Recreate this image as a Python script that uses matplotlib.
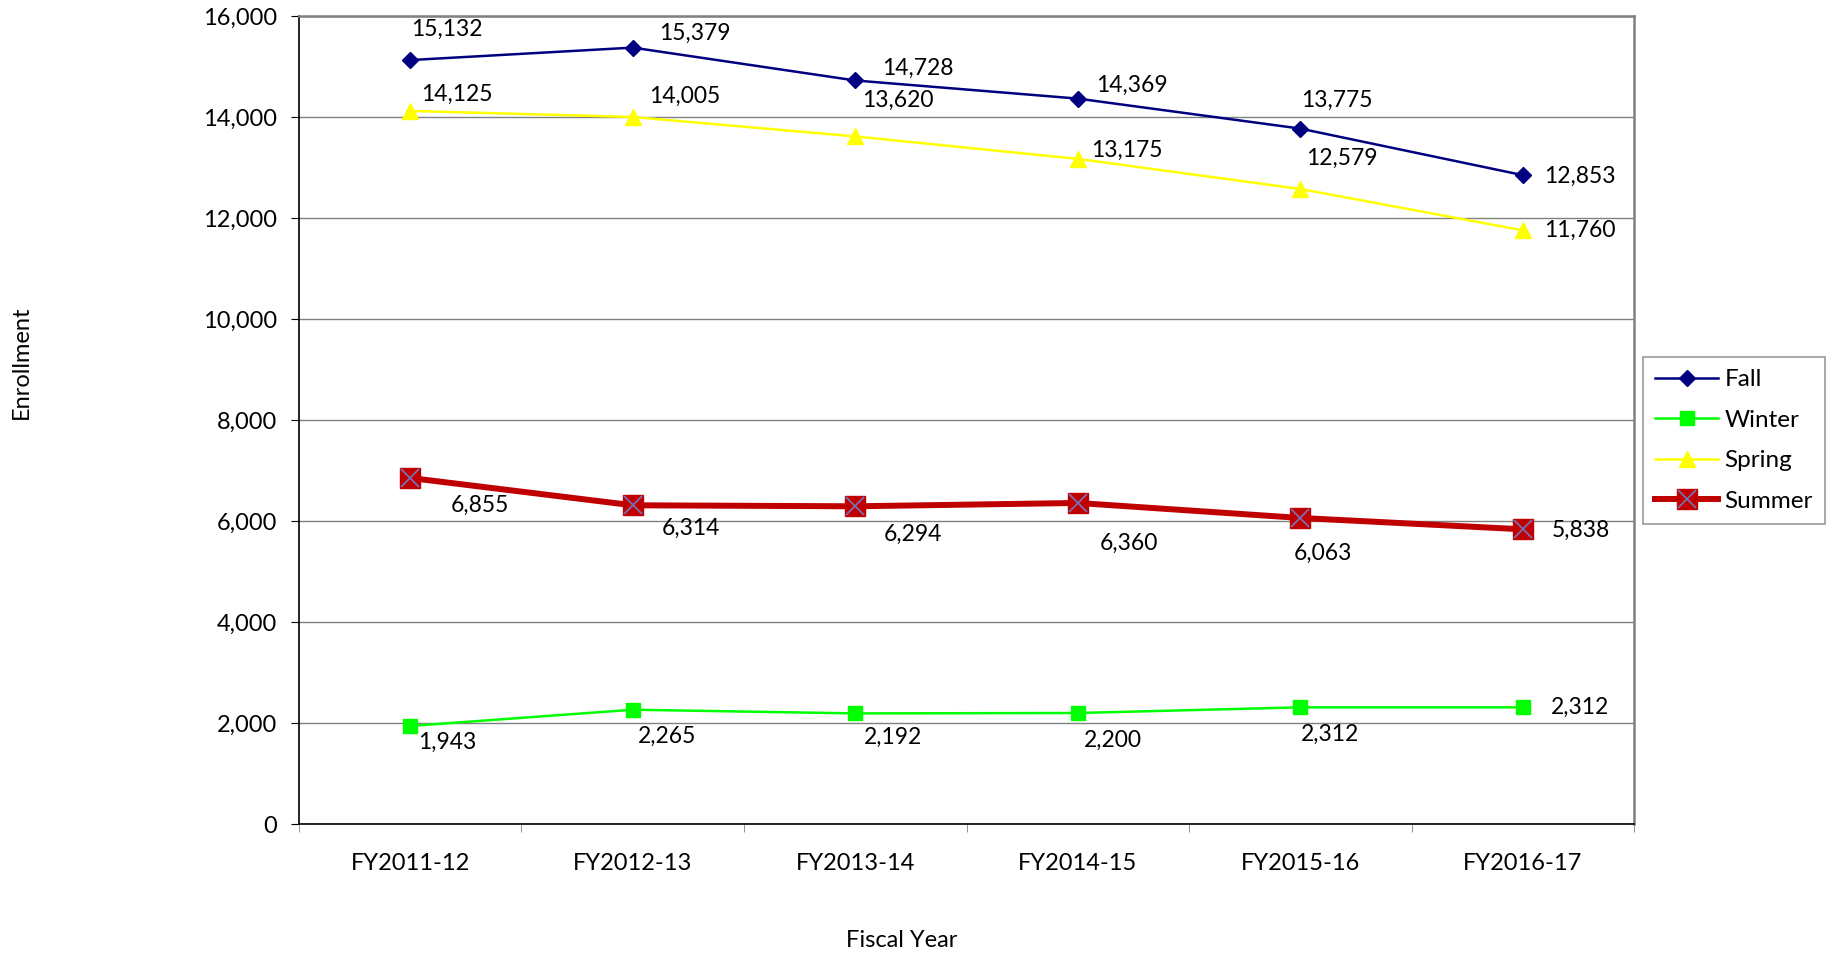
import matplotlib
matplotlib.use("Agg")
import matplotlib.pyplot as plt
from matplotlib.lines import Line2D
from matplotlib.legend_handler import HandlerTuple
import numpy as np

plt.rcParams['font.family'] = ['Lato', 'DejaVu Sans']

# data
years = ["FY2011-12", "FY2012-13", "FY2013-14", "FY2014-15", "FY2015-16", "FY2016-17"]
fall = [15132, 15379, 14728, 14369, 13775, 12853]
winter = [1943, 2265, 2192, 2200, 2312, 2312]
spring = [14125, 14005, 13620, 13175, 12579, 11760]
summer = [6855, 6314, 6294, 6360, 6063, 5838]

# label offsets (pixels) for data labels
fall_off = [(37, 31), (62, 14), (63, 12), (54, 13), (37, 28), (57, -1)]
spring_off = [(47, 17), (52, 21), (43, 36), (49, 9), (42, 31), (57, 0)]
summer_off = [(70, -27), (58, -23), (58, -28), (51, -40), (23, -35), (58, -1)]
winter_off = [(37, -16), (34, -27), (38, -24), (35, -27), (30, -27), (57, 0)]

fig = plt.figure(figsize=(18.26, 9.56), dpi=100)
ax = fig.add_axes([0.1637, 0.138, 0.7312, 0.845])

x = np.arange(len(years))

c_fall = '#000080'
c_winter = '#00ff00'
c_spring = '#ffff00'
c_summer = '#c00000'
c_x = '#7a6fb0'

ax.plot(x, winter, color=c_winter, lw=1.8, marker='s', ms=10, zorder=3)
ax.plot(x, spring, color=c_spring, lw=1.8, marker='^', ms=11, zorder=3)
ax.plot(x, fall, color=c_fall, lw=1.8, marker='D', ms=8.5, zorder=4)
ax.plot(x, summer, color=c_summer, lw=4.3, marker='s', ms=14, zorder=3)
ax.plot(x, summer, ls='none', marker='x', ms=13, mew=1.3, color=c_x, zorder=4)

def labels(vals, offs):
    for xi, v, (dx, dy) in zip(x, vals, offs):
        ax.annotate(f"{v:,}", (xi, v), xytext=(dx, dy), textcoords='offset pixels',
                    ha='center', va='center', fontsize=16.5, color='black', zorder=5)

labels(fall, fall_off)
labels(spring, spring_off)
labels(summer, summer_off)
labels(winter, winter_off)

ax.set_xlim(-0.5, len(years) - 0.5)
ax.set_ylim(0, 16000)
ax.set_yticks(np.arange(0, 16001, 2000))
ax.set_yticklabels([f"{v:,}" for v in range(0, 16001, 2000)])
ax.yaxis.grid(True, color='#808080', lw=1.0)
ax.set_axisbelow(True)

ax.set_xticks(x)
ax.set_xticklabels(years)
ax.set_xticks(np.arange(-0.5, len(years)), minor=True)
ax.tick_params(axis='x', which='major', length=0, pad=21, labelsize=17)
ax.tick_params(axis='x', which='minor', length=6, color='#808080', direction='out')
ax.tick_params(axis='y', length=6, direction='out', pad=10, labelsize=17)

for s in ['top', 'right']:
    ax.spines[s].set_color('#808080')
    ax.spines[s].set_linewidth(1.8)
for s in ['left', 'bottom']:
    ax.spines[s].set_color('black')
    ax.spines[s].set_linewidth(1.2)

fig.text(0.0115, 0.621, "Enrollment", rotation=90, ha='center', va='center', fontsize=17)
fig.text(0.494, 0.0157, "Fiscal Year", ha='center', va='center', fontsize=17)

h_fall = Line2D([], [], color=c_fall, lw=1.8, marker='D', ms=8.5)
h_winter = Line2D([], [], color=c_winter, lw=1.8, marker='s', ms=10)
h_spring = Line2D([], [], color=c_spring, lw=1.8, marker='^', ms=11)
h_summer = Line2D([], [], color=c_summer, lw=4.3, marker='s', ms=14)
h_summer_x = Line2D([], [], ls='none', marker='x', ms=13, mew=1.3, color=c_x)

leg = fig.legend([h_fall, h_winter, h_spring, (h_summer, h_summer_x)],
                 ["Fall", "Winter", "Spring", "Summer"],
                 handler_map={tuple: HandlerTuple(ndivide=1, pad=0)},
                 loc='upper left', bbox_to_anchor=(0.8998, 0.6266),
                 fontsize=17.5, frameon=True, fancybox=False, borderaxespad=0,
                 handlelength=2.6, handletextpad=0.25, labelspacing=0.8,
                 borderpad=0.5)
leg.get_frame().set_edgecolor('#808080')
leg.get_frame().set_linewidth(1.2)

fig.savefig("out.png", dpi=100)
